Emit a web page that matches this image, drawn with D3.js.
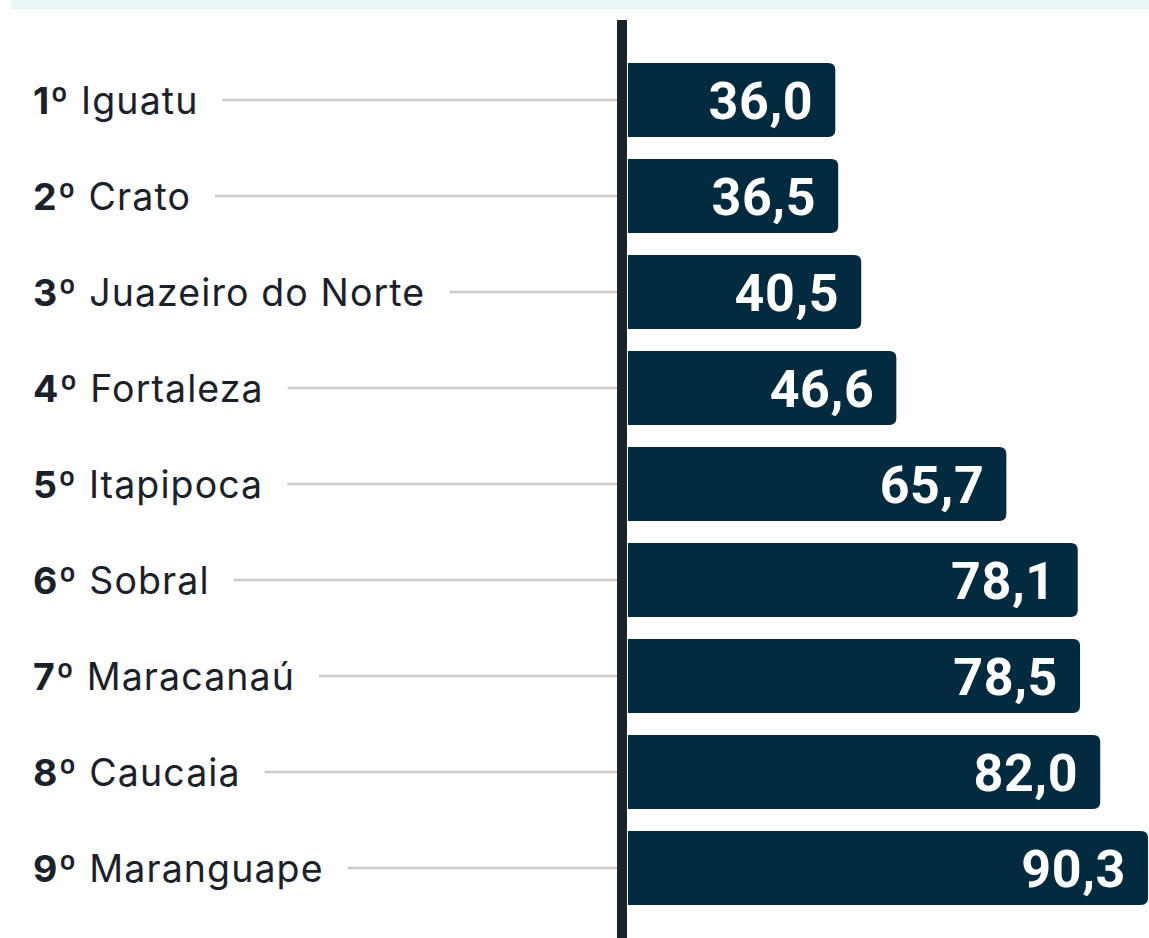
<!DOCTYPE html>
<html>
<head>
<meta charset="utf-8">
<title>Ranking</title>
<style>
  body { margin: 0; background: #fff; }
  svg { display: block; }
</style>
</head>
<body>
<div id="chart"></div>
<script src="https://cdn.jsdelivr.net/npm/d3@7"></script>
<script>
// data
var ranks = ["1º", "2º", "3º", "4º", "5º", "6º", "7º", "8º", "9º"];
var cities = ["Iguatu", "Crato", "Juazeiro do Norte", "Fortaleza", "Itapipoca", "Sobral", "Maracanaú", "Caucaia", "Maranguape"];
var values = [36.0, 36.5, 40.5, 46.6, 65.7, 78.1, 78.5, 82.0, 90.3];

var width = 1149, height = 938;
var svg = d3.select("#chart").append("svg").attr("width", width).attr("height", height);

// light band on top
svg.append("rect").attr("x", 11).attr("y", 0).attr("width", width - 11).attr("height", 9).attr("fill", "#e8f6f6");

var x = d3.scaleLinear().domain([0, 90.3]).range([628, 1148]);
var y = d3.scaleBand().domain(d3.range(values.length)).range([52, 916]).paddingInner(0.229).paddingOuter(0.1145);

var rows = svg.selectAll("g.row").data(values).enter().append("g").attr("class", "row");

// label
var labels = rows.append("text")
  .attr("x", 33)
  .attr("y", function(d, i) { return y(i) + y.bandwidth() / 2; })
  .attr("dy", "0.36em")
  .attr("font-family", "Inter, sans-serif")
  .attr("font-size", 37.5)
  .attr("letter-spacing", 1.1)
  .attr("fill", "#1b212b");
labels.append("tspan").attr("font-weight", 700).text(function(d, i) { return ranks[i]; });
labels.append("tspan").attr("font-weight", 400).text(function(d, i) { return " " + cities[i]; });

// connector lines
labels.each(function(d, i) {
  var w = this.getComputedTextLength();
  d3.select(this.parentNode).insert("line", "text")
    .attr("x1", 33 + w + 24).attr("x2", 617)
    .attr("y1", y(i) + y.bandwidth() / 2).attr("y2", y(i) + y.bandwidth() / 2)
    .attr("stroke", "#c9c9ce").attr("stroke-width", 2.5);
});

// bars, rounded on the right
var r = 7;
rows.append("path")
  .attr("fill", "#032b3f")
  .attr("d", function(d, i) {
    var x0 = x(0), x1 = x(d), y0 = y(i), y1 = y(i) + y.bandwidth();
    return "M" + x0 + "," + y0 + "H" + (x1 - r) + "Q" + x1 + "," + y0 + " " + x1 + "," + (y0 + r) +
      "V" + (y1 - r) + "Q" + x1 + "," + y1 + " " + (x1 - r) + "," + y1 + "H" + x0 + "Z";
  });

rows.append("text")
  .attr("x", function(d) { return x(d) - 22; })
  .attr("y", function(d, i) { return y(i) + y.bandwidth() / 2; })
  .attr("dy", "0.36em")
  .attr("text-anchor", "end")
  .attr("font-family", "Roboto, sans-serif")
  .attr("font-weight", 700)
  .attr("font-size", 52)
  .attr("letter-spacing", 0.6)
  .attr("fill", "#fff")
  .text(function(d) { return d.toFixed(1).replace(".", ","); });

// vertical axis line
svg.append("rect").attr("x", 617).attr("y", 20).attr("width", 10).attr("height", height - 20).attr("fill", "#1c222b");
</script>
</body>
</html>
